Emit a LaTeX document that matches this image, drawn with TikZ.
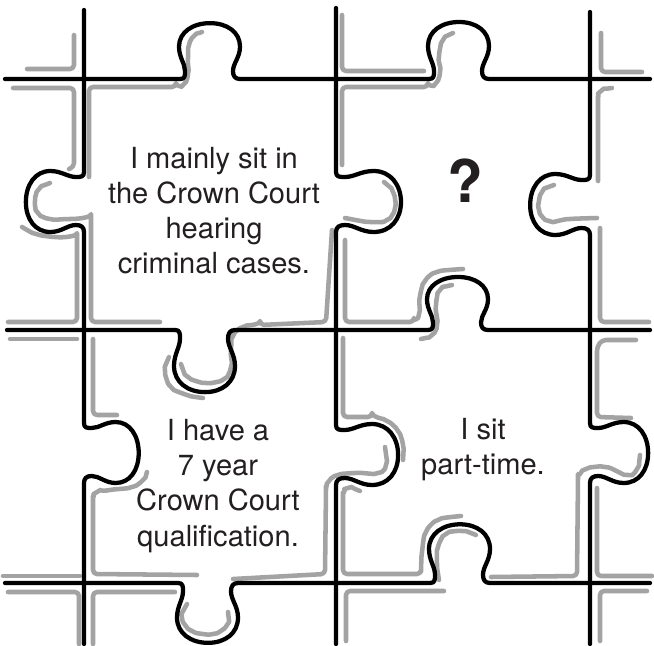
\documentclass[tikz,border=0pt]{standalone}
\usepackage{fontspec}
\setmainfont{TeX Gyre Heros}
\usepackage{xcolor}
\definecolor{inkgray}{HTML}{231F20}
\definecolor{ghostgray}{HTML}{A3A3A3}

\begin{document}
\begin{tikzpicture}[
  x=0.75pt, y=-0.75pt,
  cutline/.style={line width=3.2pt, line cap=round, line join=round, black},
  ghostline/.style={line width=3.4pt, line cap=round, line join=round, ghostgray,
                    rounded corners=3pt},
  caption/.style={align=center, inner sep=0pt, text=inkgray,
                  font=\fontsize{21.8}{26.3}\selectfont},
  hknob/.style n args={3}{insert path={
    -- ({#1-30},#2)
    .. controls ({#1-25},#2) and ({#1-25},{#2+3*(#3)}) .. ({#1-25},{#2+8*(#3)})
    .. controls ({#1-25},{#2+16*(#3)}) and ({#1-31},{#2+22*(#3)}) .. ({#1-31},{#2+33*(#3)})
    .. controls ({#1-31},{#2+48*(#3)}) and ({#1-17},{#2+57*(#3)}) .. (#1,{#2+57*(#3)})
    .. controls ({#1+17},{#2+57*(#3)}) and ({#1+30},{#2+48*(#3)}) .. ({#1+30},{#2+33*(#3)})
    .. controls ({#1+30},{#2+22*(#3)}) and ({#1+23},{#2+16*(#3)}) .. ({#1+23},{#2+8*(#3)})
    .. controls ({#1+23},{#2+3*(#3)}) and ({#1+25},#2) .. ({#1+30},#2)
  }},
  vknob/.style n args={3}{insert path={
    -- (#2,{#1-30})
    .. controls (#2,{#1-25}) and ({#2+3*(#3)},{#1-25}) .. ({#2+8*(#3)},{#1-25})
    .. controls ({#2+16*(#3)},{#1-25}) and ({#2+22*(#3)},{#1-31}) .. ({#2+33*(#3)},{#1-31})
    .. controls ({#2+48*(#3)},{#1-31}) and ({#2+57*(#3)},{#1-17}) .. ({#2+57*(#3)},#1)
    .. controls ({#2+57*(#3)},{#1+17}) and ({#2+48*(#3)},{#1+30}) .. ({#2+33*(#3)},{#1+30})
    .. controls ({#2+22*(#3)},{#1+30}) and ({#2+16*(#3)},{#1+23}) .. ({#2+8*(#3)},{#1+23})
    .. controls ({#2+3*(#3)},{#1+23}) and (#2,{#1+25}) .. (#2,{#1+30})
  }}
]
  \path[use as bounding box, fill=white] (0,0) rectangle (654,646);

  % grey echoes of the cut lines
  \draw[ghostline] (27,69) -- (74,69) -- (74,35);
  \draw[ghostline] (13,88) -- (74,88) -- (74,167) -- (69,169);
  \draw[ghostline] (89,177) -- (89,87) -- (176,87) -- plot[smooth] coordinates {(176,87) (184,84) (188,74) (188,58) (189,45) (194,36) (202,32)};
  \draw[ghostline] plot[smooth] coordinates {(50,183) (39,189) (35,201) (38,213) (50,219) (70,219) (91,218)} -- (91,322) -- (160,322);
  \draw[ghostline] plot[smooth] coordinates {(22,227) (36,234) (55,237) (77,237)} -- (77,322) -- (8,322);
  \draw[ghostline] plot[smooth] coordinates {(181,364) (188,377) (206,383) (224,379) (231,367) (231,350) (233,336) (243,327) (260,325)} -- (326,322) -- (332,230);
  \draw[ghostline] plot[smooth] coordinates {(384,182) (393,192) (395,208) (387,220) (370,222) (345,218)};
  \draw[ghostline] (342,15) -- (342,71) -- (424,71);
  \draw[ghostline] (342,165) -- (342,87) -- (428,87) -- plot[smooth] coordinates {(428,87) (436,83) (440,72) (439,56) (443,40) (453,33)};
  \draw[ghostline] (601,33) -- (601,72) -- (642,72);
  \draw[ghostline] plot[smooth] coordinates {(612,88) (601,91) (598,100)} -- (598,181);
  \draw[ghostline] plot[smooth] coordinates {(554,185) (542,192) (539,210) (549,221) (570,219) (597,218)};
  \draw[ghostline] (600,228) -- (600,322) -- (649,322);
  \draw[ghostline] (345,240) -- (345,322) -- (414,322) -- plot[smooth] coordinates {(414,322) (419,314) (420,296) (425,281) (437,272) (463,269)};
  \draw[ghostline] plot[smooth] coordinates {(452,285) (440,290) (436,305) (437,325) (432,335) (421,339)};
  \draw[ghostline] (636,340) -- (602,340) -- (597,347) -- (597,417) -- (631,418);
  \draw[ghostline] plot[smooth] coordinates {(640,455) (637,469) (628,475) (605,467) (586,469) (578,478)} -- (577,576) -- (491,577);
  \draw[ghostline] (597,488) -- (597,576) -- (652,576);
  \draw[ghostline] (647,591) -- (600,591) -- (600,641);
  \draw[ghostline] plot[smooth] coordinates {(385,447) (386,465) (378,473) (355,473) (338,475) (329,481) (326,490)} -- (325,574) -- (233,579);
  \draw[ghostline] (93,339) -- (93,415) -- (117,415);
  \draw[ghostline] plot[smooth] coordinates {(147,472) (143,480) (132,487) (110,490) (97,492) (93,500)} -- (93,574) -- (197,575);
  \draw[ghostline] plot[smooth] coordinates {(169,357) (165,371) (171,387) (187,395) (203,398)};
  \draw[ghostline] plot[smooth] coordinates {(187,604) (182,618) (192,631) (213,634) (227,625) (228,612)};
  \draw[ghostline] (343,338) -- (343,417) -- (372,417) -- plot[smooth] coordinates {(372,417) (387,421) (398,431) (403,445) (403,460)};
  \draw[ghostline] plot[smooth] coordinates {(360,491) (348,488) (343,496)} -- (343,574) -- (421,574) -- plot[smooth] coordinates {(421,574) (422,552) (426,532) (438,520) (461,516)};
  \draw[ghostline] (346,641) -- (346,591) -- (444,591);
  \draw[ghostline] plot[smooth] coordinates {(476,535) (462,531) (446,534) (438,547) (437,564) (439,580)};
  \draw[ghostline] (93,644) -- (93,592) -- (175,592);
  \draw[ghostline] (8,592) -- (79,592) -- (79,644);
  \draw[ghostline] (10,339) -- (77,339);
  \draw[ghostline] (3,576) -- (80,576);

  % black cut lines
  \draw[cutline] (5,79) [hknob={210}{79}{-0.98}] [hknob={459}{79}{-1}] -- (650,79);
  \draw[cutline] (7,330) [hknob={205}{330}{1.09}] [hknob={458}{330}{-0.93}] -- (650,330);
  \draw[cutline] (5,583) [hknob={208}{583}{1.05}] [hknob={460}{583}{-1.03}] -- (650,583);
  \draw[cutline] (84,10) [vknob={202}{84}{-1.02}] [vknob={453}{84}{0.96}] -- (84,644);
  \draw[cutline] (336,8) [vknob={202}{336}{1.14}] [vknob={455}{336}{1.09}] -- (336,644);
  \draw[cutline] (590,12) [vknob={205}{590}{-1.05}] [vknob={453}{590}{1.02}] -- (590,644);

  \node[caption] (sitcrown) at (214,211) {I mainly sit in\\the Crown Court\\hearing\\criminal cases.};
  \node[inner sep=0pt, text=inkgray, font=\bfseries\fontsize{44}{44}\selectfont] (unknown) at (465,181) {?};
  \node[caption] (qualified) at (218,486) {I have a\\7 year\\Crown Court\\qualification.};
  \node[caption] (parttime) at (483,450) {I sit\\part-time.};
\end{tikzpicture}
\end{document}
